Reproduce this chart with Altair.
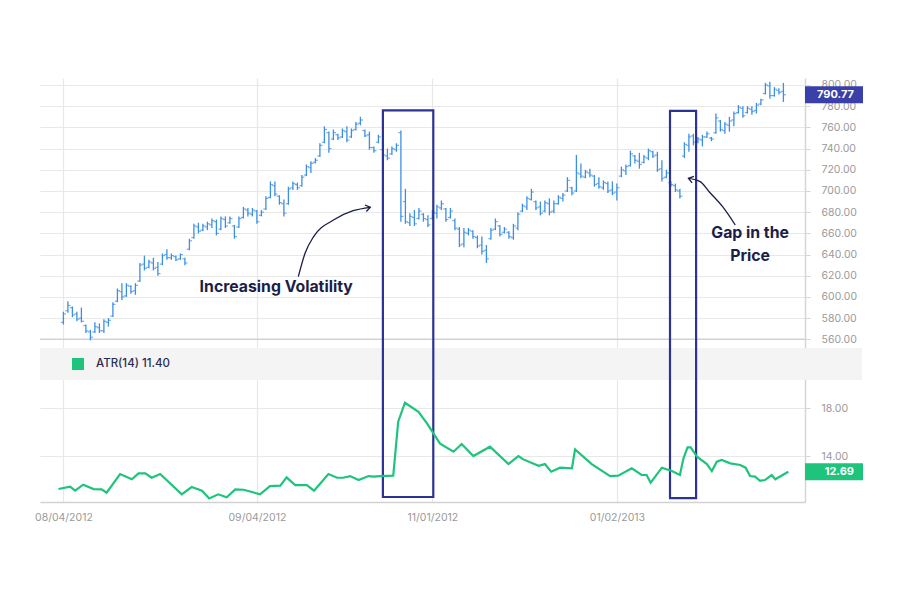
import altair as alt
import pandas as pd

# ---------------- data ----------------
highs = [586, 596, 591, 586, 590, 574, 569, 576, 575, 579,
         580, 595, 608, 613, 613, 611, 613, 632, 639, 635,
         637, 633, 641, 645, 641, 639, 641, 637, 655, 669,
         670, 669, 671, 674, 673, 676, 676, 676, 668, 676,
         685, 684, 684, 682, 682, 695, 709, 709, 696, 692,
         704, 709, 708, 715, 725, 728, 731, 745, 761, 756,
         758, 754, 759, 761, 759, 765, 770, 758, 756, 742,
         753, 740, 740, 742, 745, 757, 702, 679, 682, 684,
         679, 677, 682, 687, 691, 684, 684, 674, 666, 665,
         665, 663, 658, 657, 649, 665, 674, 668, 666, 662,
         669, 680, 688, 695, 702, 691, 690, 691, 693, 691,
         696, 698, 713, 704, 734, 726, 720, 721, 715, 713,
         710, 709, 709, 707, 723, 725, 738, 734, 736, 734,
         740, 738, 737, 729, 720, 709, 707, 702, 746, 754,
         754, 751, 753, 756, 751, 773, 767, 765, 770, 775,
         781, 780, 780, 780, 783, 787, 802, 803, 798, 797,
         802]
lows = [574, 585, 581, 577, 576, 566, 559, 566, 566, 566,
        572, 581, 595, 597, 600, 603, 602, 614, 625, 627,
        625, 620, 630, 635, 635, 634, 635, 630, 644, 655,
        660, 662, 663, 665, 658, 663, 665, 669, 655, 665,
        674, 676, 676, 669, 676, 682, 693, 695, 687, 676,
        687, 701, 701, 704, 714, 717, 726, 732, 745, 736,
        748, 748, 750, 746, 750, 757, 762, 751, 739, 736,
        745, 732, 729, 734, 737, 671, 669, 667, 667, 673,
        671, 666, 673, 674, 682, 671, 674, 663, 647, 647,
        658, 655, 646, 640, 632, 654, 663, 657, 660, 655,
        654, 663, 680, 682, 691, 682, 677, 680, 677, 679,
        687, 690, 699, 696, 699, 712, 712, 713, 704, 702,
        701, 698, 696, 691, 713, 715, 723, 726, 721, 726,
        729, 731, 718, 709, 712, 704, 699, 693, 731, 737,
        743, 745, 742, 750, 747, 754, 756, 754, 756, 761,
        773, 769, 773, 772, 773, 781, 791, 787, 789, 791,
        784]
opens = [576, 587, 590, 584, 580, 573, 567, 567, 571, 568,
         576, 582, 596, 605, 601, 610, 606, 615, 631, 628,
         632, 628, 631, 640, 637, 638, 636, 636, 645, 656,
         666, 663, 666, 668, 671, 664, 673, 670, 667, 666,
         675, 682, 678, 681, 677, 683, 694, 705, 695, 688,
         688, 703, 706, 705, 715, 722, 727, 733, 746, 755,
         749, 753, 751, 756, 751, 758, 764, 757, 753, 741,
         746, 739, 733, 735, 739, 755, 690, 670, 675, 674,
         678, 673, 674, 679, 684, 683, 675, 672, 664, 650,
         660, 662, 656, 649, 644, 655, 664, 667, 661, 661,
         656, 665, 681, 685, 692, 690, 685, 681, 688, 681,
         688, 693, 700, 703, 700, 716, 713, 717, 714, 707,
         703, 707, 701, 699, 714, 719, 724, 733, 728, 727,
         731, 737, 734, 721, 713, 708, 705, 700, 733, 743,
         752, 747, 748, 751, 750, 755, 766, 757, 762, 767,
         774, 778, 774, 777, 776, 782, 792, 799, 790, 795,
         794]
closes = [584, 592, 583, 579, 577, 568, 562, 572, 568, 577,
          578, 593, 606, 600, 611, 605, 611, 630, 627, 633,
          627, 622, 639, 637, 639, 635, 640, 632, 653, 667,
          662, 667, 669, 672, 660, 674, 667, 674, 657, 674,
          683, 679, 682, 671, 680, 693, 706, 697, 689, 679,
          702, 707, 703, 713, 723, 726, 729, 743, 758, 740,
          755, 750, 757, 748, 757, 763, 767, 752, 741, 738,
          751, 734, 731, 740, 743, 676, 671, 676, 669, 681,
          674, 668, 680, 685, 688, 673, 681, 665, 649, 661,
          663, 657, 648, 643, 636, 663, 671, 659, 664, 657,
          667, 678, 686, 693, 699, 684, 679, 689, 680, 688,
          694, 696, 710, 698, 717, 714, 718, 715, 706, 704,
          708, 700, 698, 703, 720, 723, 735, 729, 725, 732,
          738, 733, 720, 712, 717, 706, 701, 695, 744, 751,
          746, 749, 751, 754, 749, 769, 758, 763, 766, 773,
          779, 771, 778, 775, 781, 786, 800, 790, 796, 793,
          790.77]

atr_idx = [-1.1, 1.5, 2.6, 4.4, 6.7, 8.5, 9.6, 12.6, 15.2, 16.7,
           18.2, 19.6, 21.5, 26.3, 28.5, 30.8, 32.4, 34.4, 36.3, 38.2,
           40.0, 41.9, 43.7, 45.9, 48.2, 49.6, 51.5, 54.1, 55.7, 58.9,
           60.8, 62.2, 63.7, 65.6, 67.8, 68.9, 70.4, 73.3, 74.4, 75.9,
           78.9, 80.8, 83.7, 86.7, 88.5, 91.1, 94.8, 98.9, 101.1, 102.2,
           105.6, 107.0, 108.4, 110.4, 113.0, 113.7, 117.4, 121.5, 123.3, 126.3,
           128.5, 129.6, 130.5, 133.0, 135.2, 137.0, 137.8, 138.7, 139.4, 140.8,
           143.0, 144.1, 145.2, 146.3, 148.2, 150.4, 151.6, 152.6, 153.7, 154.8,
           155.9, 157.4, 158.2, 161.1]
atr_vals = [11.25, 11.44, 11.11, 11.61, 11.25, 11.22, 10.94, 12.5, 12.06, 12.56,
            12.56, 12.19, 12.5, 10.81, 11.42, 11.11, 10.47, 10.81, 10.56, 11.22,
            11.19, 11.0, 10.81, 11.5, 11.53, 12.22, 11.58, 11.58, 11.11, 12.5,
            12.19, 12.19, 12.33, 12.0, 12.33, 12.28, 12.33, 12.36, 16.86, 18.44,
            17.69, 16.72, 15.03, 14.36, 15.0, 14.0, 14.78, 13.33, 14.0, 13.72,
            13.19, 13.33, 12.69, 13.03, 12.97, 14.56, 13.33, 12.33, 12.36, 12.97,
            12.42, 12.42, 11.78, 13.03, 12.75, 12.42, 13.81, 14.72, 14.72, 13.94,
            13.33, 12.75, 13.53, 13.67, 13.39, 13.25, 13.03, 12.33, 12.28, 11.94,
            12.0, 12.42, 12.06, 12.69]

tick_idx = [0, 43, 82, 123]
tick_labels = ["08/04/2012", "09/04/2012", "11/01/2012", "01/02/2013"]
price_ticks = [560, 580, 600, 620, 640, 660, 680, 700, 720, 740, 760, 780, 800]
atr_ticks = [14, 18]
legend_label = "ATR(14) 11.40"

# annotations (bar index, price units)
box_i0 = [71.0, 134.8]
box_i1 = [82.2, 140.6]
box_top = [776.0, 775.5]
box_bottom = [411.2, 410.2]

arrow_id = ["a", "a", "a", "a", "a", "a", "b", "b", "b", "b", "b"]
arrow_i = [52.2, 53.7, 55.6, 60.0, 64.4, 68.2, 138.9, 141.5, 143.5, 146.5, 149.3]
arrow_p = [619.1, 641.2, 656.9, 672.6, 681.4, 684.6, 711.9, 708.8, 699.3, 685.2, 667.9]
head_i = [68.2, 138.9]
head_p = [684.6, 711.9]
head_angle = [348, 196]

notes = ["Increasing Volatility", "Gap in the\nPrice"]
note_i = [47.3, 152.6]
note_p = [609.4, 660.3]

# ---------------- styling ----------------
FONT = "Inter"
BLUE = "#3d8fe0"
GREEN = "#1ec47b"
NAVY = "#2b3494"
TAG_NAVY = "#3a40a8"
TXT = "#1a1e48"
GRID = "#e8e8e8"
LBL = "#9a9a9a"

bars = pd.DataFrame({"i": list(range(len(highs))), "high": highs, "low": lows,
                     "open": opens, "close": closes})
atr_df = pd.DataFrame({"i": atr_idx, "atr": atr_vals, "name": legend_label})
boxes = pd.DataFrame({"i": box_i0, "i2": box_i1, "top": box_top, "bot": box_bottom})
arrows = pd.DataFrame({"a": arrow_id, "i": arrow_i, "p": arrow_p})
heads = pd.DataFrame({"i": head_i, "p": head_p, "ang": head_angle})
notes_df = pd.DataFrame({"i": note_i, "p": note_p, "t": notes})
price_tag = pd.DataFrame({"v": [closes[-1]], "t": [f"{closes[-1]:.2f}"]})
atr_tag = pd.DataFrame({"v": [atr_vals[-1]], "t": [f"{atr_vals[-1]:.2f}"]})
one = pd.DataFrame({"k": [0]})

expr = "''"
for v, l in zip(reversed(tick_idx), reversed(tick_labels)):
    expr = f"datum.value == {v} ? '{l}' : {expr}"

xscale = alt.Scale(domain=[-5.2, 164.8], nice=False, zero=False)
pscale = alt.Scale(domain=[406.5, 806.6], nice=False, zero=False)
ascale = alt.Scale(domain=[10.17, 45.5], nice=False, zero=False)

x_axis = alt.Axis(values=tick_idx, labelExpr=expr, grid=True, gridColor=GRID, gridWidth=1.2,
                  domainColor="#d2d2d2", domainWidth=1.5, ticks=False, labelPadding=10,
                  labelFont=FONT, labelFontSize=10.5, labelColor=LBL, labelFlush=False, title=None)
p_axis = alt.Axis(orient="right", values=price_ticks, format=".2f", grid=True, gridColor=GRID,
                  gridWidth=1.2, domainColor="#d6d6d6", domainWidth=1.5, tickColor="#d6d6d6",
                  tickSize=5, labelPadding=11, labelFont=FONT, labelFontSize=10.5,
                  labelColor=LBL, labelOverlap=False, title=None)
a_axis = alt.Axis(orient="right", values=atr_ticks, format=".2f", grid=True, gridColor=GRID,
                  gridWidth=1.2, domain=False, tickColor="#d6d6d6", tickSize=5, labelPadding=11,
                  labelFont=FONT, labelFontSize=10.5, labelColor=LBL, labelOverlap=False,
                  title=None)

X = lambda f="i": alt.X(f"{f}:Q", scale=xscale, axis=x_axis)
PY = lambda f: alt.Y(f"{f}:Q", scale=pscale, axis=p_axis)

band = alt.Chart(one).mark_rect(color="#f4f4f5").encode(
    x=alt.value(0), x2=alt.value(822), y=alt.value(270), y2=alt.value(302))

bottom_rule = alt.Chart(one).mark_rule(color="#d2d2d2", strokeWidth=1.5).encode(
    y=alt.YDatum(price_ticks[0], scale=pscale, axis=p_axis))

hl = alt.Chart(bars).mark_rule(color=BLUE, strokeWidth=1.3).encode(
    x=X(), y=PY("low"), y2="high:Q")
op = alt.Chart(bars).mark_tick(color=BLUE, orient="horizontal", size=2.6, thickness=1.2,
                               xOffset=-1.3).encode(x=X(), y=PY("open"))
cl = alt.Chart(bars).mark_tick(color=BLUE, orient="horizontal", size=2.6, thickness=1.2,
                               xOffset=1.3).encode(x=X(), y=PY("close"))

rects = alt.Chart(boxes).mark_rect(fillOpacity=0, stroke=NAVY, strokeWidth=2.2).encode(
    x=X(), x2="i2:Q", y=PY("top"), y2="bot:Q")

arrow_lines = alt.Chart(arrows).mark_line(color=TXT, strokeWidth=1.3, interpolate="monotone").encode(
    x=X(), y=PY("p"), detail="a:N")
arrow_heads = alt.Chart(heads).mark_point(shape="M-1,-0.7L0,0L-1,0.7", filled=False, size=90,
                                          color=TXT, strokeWidth=1.3, opacity=1).encode(
    x=X(), y=PY("p"), angle=alt.Angle("ang:Q", scale=None))

note_text = alt.Chart(notes_df).mark_text(font=FONT, fontSize=15.8, fontWeight=700, color=TXT,
                                          lineBreak="\n", lineHeight=23, align="center",
                                          baseline="middle").encode(
    x=X(), y=PY("p"), text="t:N")

ptag_box = alt.Chart(price_tag).mark_point(shape="M-1,-0.29H1V0.29H-1Z", size=3364, filled=True,
                                           color=TAG_NAVY, opacity=1).encode(
    x=alt.value(794), y=PY("v"))
ptag_txt = alt.Chart(price_tag).mark_text(font=FONT, fontSize=11, fontWeight="bold", color="white",
                                          align="right", baseline="middle").encode(
    x=alt.value(814), y=PY("v"), text="t:N")

price_group = alt.layer(band, bottom_rule, hl, op, cl, rects, arrow_lines, arrow_heads,
                        note_text, ptag_box, ptag_txt)

atr_line = alt.Chart(atr_df).mark_line(strokeWidth=2.2, interpolate="linear").encode(
    x=X(), y=alt.Y("atr:Q", scale=ascale, axis=a_axis),
    color=alt.Color("name:N", scale=alt.Scale(domain=[legend_label], range=[GREEN]),
                    legend=alt.Legend(title=None, orient="none", legendX=32, legendY=280,
                                      symbolType="square", symbolSize=144,
                                      symbolFillColor=GREEN, symbolStrokeWidth=0,
                                      labelFont=FONT, labelFontSize=11.5, labelColor="#2a2d4f",
                                      labelFontWeight=500, labelOffset=12, padding=0, zindex=1)))
atag_box = alt.Chart(atr_tag).mark_point(shape="M-1,-0.29H1V0.29H-1Z", size=3364, filled=True,
                                         color=GREEN, opacity=1).encode(
    x=alt.value(794), y=alt.Y("v:Q", scale=ascale, axis=a_axis))
atag_txt = alt.Chart(atr_tag).mark_text(font=FONT, fontSize=11, fontWeight="bold", color="white",
                                        align="right", baseline="middle").encode(
    x=alt.value(814), y=alt.Y("v:Q", scale=ascale, axis=a_axis), text="t:N")

atr_group = alt.layer(atr_line, atag_box, atag_txt)

chart = alt.layer(price_group, atr_group).resolve_scale(y="independent").properties(
    width=765, height=424,
    padding={"left": 32, "top": 70, "right": 70, "bottom": 60},
    autosize=alt.AutoSizeParams(type="none"),
    background="white",
).configure_view(stroke=None).configure_axis(labelOverlap=False)

chart.save("out.html", embed_options={"renderer": "svg", "actions": False})
